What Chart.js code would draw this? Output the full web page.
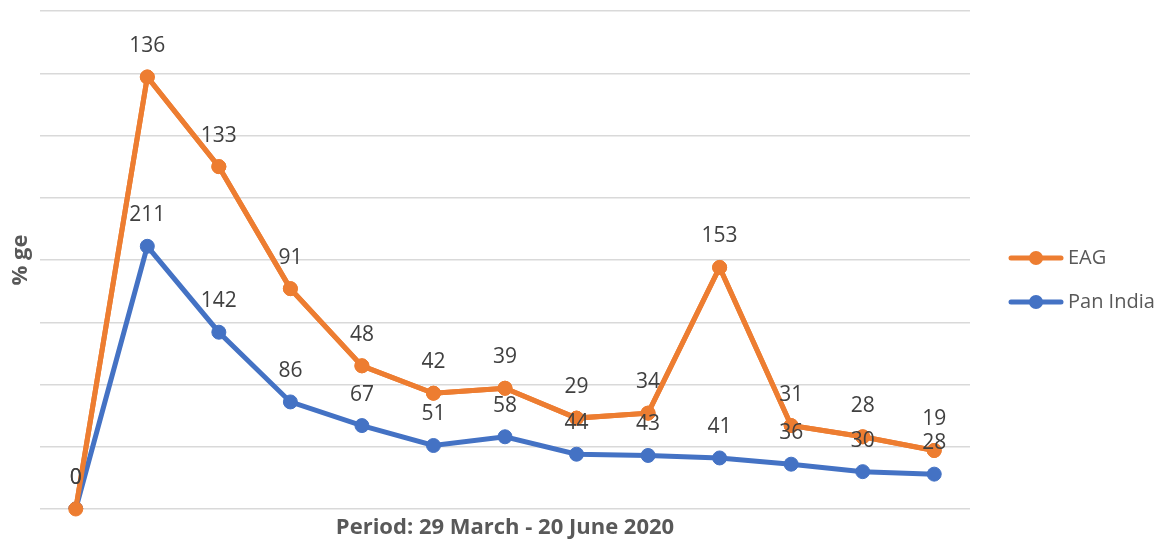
<!DOCTYPE html>
<html>
<head>
<meta charset="utf-8">
<script src="https://cdn.jsdelivr.net/npm/chart.js@4/dist/chart.umd.min.js"></script>
<style>
  html, body { margin: 0; padding: 0; background: #fff; }
  canvas { display: block; }
</style>
</head>
<body>
<canvas id="chart" width="1160" height="541"></canvas>
<script>
// periods (weekly points, axis labels are not shown)
const periods = ['1', '2', '3', '4', '5', '6', '7', '8', '9', '10', '11', '12', '13']
const panIndia = [0, 211, 142, 86, 67, 51, 58, 44, 43, 41, 36, 30, 28]
const eag = [0, 136, 133, 91, 48, 42, 39, 29, 34, 153, 31, 28, 19]

const ORANGE = '#ED7D31'
const BLUE = '#4472C4'
const FONT = "'Open Sans', 'Noto Sans', sans-serif"

// labels above every point, EAG line redrawn so it sits on top like the original
const pointLabels = {
  id: 'pointLabels',
  afterDatasetsDraw(chart) {
    const ctx = chart.ctx
    chart.getDatasetMeta(1).controller.draw()
    ctx.save()
    ctx.font = '21px ' + FONT
    ctx.fillStyle = '#404040'
    ctx.textAlign = 'center'
    ctx.textBaseline = 'middle'
    ;[1, 0].forEach((di) => {
      const meta = chart.getDatasetMeta(di)
      const vals = chart.data.datasets[di].data
      meta.data.forEach((pt, i) => {
        ctx.fillText(String(vals[i]), pt.x, pt.y - 31)
      })
    })
    ctx.restore()
  },
}

// legend on the right: line with marker + text
const sideLegend = {
  id: 'sideLegend',
  afterDraw(chart) {
    const ctx = chart.ctx
    const area = chart.chartArea
    const mid = (area.top + area.bottom) / 2 + 20
    const items = [
      { text: 'EAG', color: ORANGE, y: mid - 22 },
      { text: 'Pan India', color: BLUE, y: mid + 22 },
    ]
    const x0 = area.right + 39
    ctx.save()
    items.forEach((it) => {
      ctx.strokeStyle = it.color
      ctx.fillStyle = it.color
      ctx.lineWidth = 5
      ctx.lineCap = 'round'
      ctx.beginPath()
      ctx.moveTo(x0 + 2, it.y)
      ctx.lineTo(x0 + 52, it.y)
      ctx.stroke()
      ctx.beginPath()
      ctx.arc(x0 + 27, it.y, 7, 0, Math.PI * 2)
      ctx.fill()
      ctx.font = '20px ' + FONT
      ctx.fillStyle = '#595959'
      ctx.textAlign = 'left'
      ctx.textBaseline = 'middle'
      ctx.fillText(it.text, x0 + 59, it.y)
    })
    ctx.restore()
  },
}

new Chart(document.getElementById('chart'), {
  type: 'line',
  data: {
    labels: periods,
    datasets: [
      {
        label: 'Pan India',
        data: panIndia,
        borderColor: BLUE,
        backgroundColor: BLUE,
        borderWidth: 5,
        pointRadius: 7,
        pointBorderWidth: 1,
        tension: 0,
      },
      {
        label: 'EAG',
        data: eag,
        borderColor: ORANGE,
        backgroundColor: ORANGE,
        borderWidth: 5,
        pointRadius: 7,
        pointBorderWidth: 1,
        tension: 0,
      },
    ],
  },
  options: {
    responsive: false,
    animation: false,
    devicePixelRatio: 1,
    layout: { padding: { top: 11, right: 190, left: 0, bottom: 0 } },
    plugins: {
      legend: { display: false },
      tooltip: { enabled: false },
    },
    scales: {
      x: {
        offset: true,
        grid: { display: false },
        border: { display: false },
        ticks: { display: false },
        title: {
          display: true,
          text: 'Period: 29 March - 20 June 2020',
          color: '#595959',
          font: { family: FONT, size: 22, weight: 'bold' },
          padding: { top: 0, bottom: 0 },
        },
        afterFit(scale) { scale.height = 32 },
      },
      y: {
        stacked: true,
        min: 0,
        max: 400,
        ticks: { display: false, stepSize: 50 },
        grid: { color: '#d9d9d9', lineWidth: 1.5, drawTicks: false },
        border: { display: false },
        title: {
          display: true,
          text: '% ge',
          color: '#595959',
          font: { family: FONT, size: 22, weight: 'bold' },
          padding: { top: 8, bottom: 0 },
        },
        afterFit(scale) { scale.width = 40 },
      },
    },
  },
  plugins: [pointLabels, sideLegend],
})
</script>
</body>
</html>
